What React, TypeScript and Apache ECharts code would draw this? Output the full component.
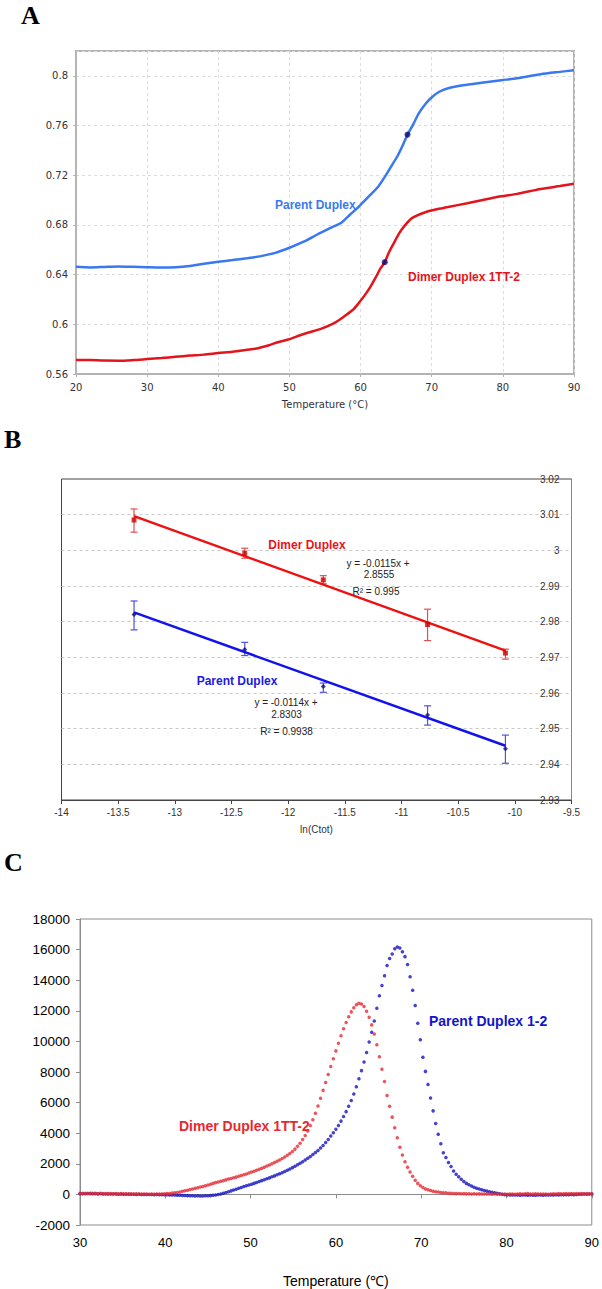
import React, { useEffect, useRef } from "react";
import * as echarts from "echarts";

// ---------- Panel A: absorbance melting curves ----------
const A_PARENT_T = [20, 22, 24, 26, 28, 30, 32, 34, 36, 38, 40, 42, 44, 46, 48, 50, 52, 54, 56, 57.3, 58.5, 59.8, 61.4, 62.5, 63.6, 64.5, 65.2, 66, 66.6, 67.4, 68.2, 69.2, 70.1, 71, 72.3, 74.4, 77, 79.8, 82, 85.3, 88, 90];
const A_PARENT_ABS = [0.6463, 0.6458, 0.6462, 0.6466, 0.6463, 0.646, 0.6458, 0.646, 0.647, 0.6487, 0.6503, 0.6517, 0.6532, 0.6549, 0.6575, 0.6616, 0.6665, 0.6725, 0.6782, 0.6818, 0.6882, 0.695, 0.7043, 0.711, 0.7204, 0.729, 0.7355, 0.745, 0.7527, 0.761, 0.77, 0.778, 0.7832, 0.787, 0.79, 0.7925, 0.7945, 0.7965, 0.798, 0.8013, 0.8032, 0.8045];
const A_DIMER_T = [20, 22, 24, 26, 28, 30, 32, 34, 36, 38, 40, 42, 44, 45.4, 47, 48.5, 50, 51.5, 52.7, 54.5, 56, 57, 58.1, 59, 59.8, 60.6, 61.4, 62.2, 62.8, 63.4, 64, 64.7, 65.5, 66.3, 67.1, 67.9, 69, 70.1, 71.5, 72.3, 75, 78, 79.8, 82, 85.3, 88, 90];
const A_DIMER_ABS = [0.5713, 0.5712, 0.5708, 0.5707, 0.5712, 0.572, 0.5728, 0.5738, 0.5748, 0.5756, 0.5769, 0.578, 0.5795, 0.5806, 0.583, 0.5858, 0.5881, 0.5912, 0.5934, 0.5965, 0.6001, 0.6035, 0.6081, 0.612, 0.6175, 0.6235, 0.6303, 0.6385, 0.645, 0.65, 0.658, 0.6656, 0.674, 0.68, 0.685, 0.6875, 0.69, 0.6918, 0.6935, 0.6944, 0.6975, 0.701, 0.703, 0.705, 0.7089, 0.7113, 0.7131];
const A_TM_T = [66.6, 63.4];
const A_TM_ABS = [0.7527, 0.65];

// ---------- Panel B: van't Hoff plot ----------
const B_LNC = [-13.36, -12.383, -11.69, -10.77, -10.083];
const B_DIMER = [3.0085, 2.9992, 2.9917, 2.9792, 2.9712];
const B_DIMER_LO = [3.0051, 2.9978, 2.9906, 2.9747, 2.9695];
const B_DIMER_HI = [3.0116, 3.0006, 2.9929, 2.9835, 2.9723];
const B_PARENT = [2.982, 2.9722, 2.9618, 2.9538, 2.9444];
const B_PARENT_LO = [2.9777, 2.9705, 2.9602, 2.951, 2.9403];
const B_PARENT_HI = [2.9858, 2.9742, 2.9628, 2.9564, 2.9482];
const B_FIT_X = [-13.36, -10.083];
const B_FIT_DIMER = [3.0096, 2.9719];
const B_FIT_PARENT = [2.9826, 2.9452];

// ---------- Panel C: derivative curves (sampled every 0.3 °C from 30 to 90) ----------
const C_T_START = 30;
const C_T_STEP = 0.3;
const C_PARENT = [
  40, 50, 45, 55, 50, 40, 45, 35, 40, 30,
  30, 25, 30, 20, 25, 15, 20, 10, 15, 10,
  5, 10, 0, 5, 0, -5, 0, -10, -5, -15,
  -10, -20, -15, -25, -20, -35, -40, -45, -50, -60,
  -65, -70, -80, -85, -90, -100, -95, -105, -100, -95,
  -90, -80, -60, -40, -10, 30, 80, 130, 180, 230,
  290, 340, 400, 450, 510, 560, 620, 670, 720, 780,
  840, 900, 960, 1020, 1080, 1150, 1210, 1280, 1350, 1420,
  1500, 1580, 1660, 1750, 1840, 1940, 2040, 2140, 2250, 2360,
  2480, 2610, 2740, 2870, 3030, 3200, 3390, 3590, 3820, 4030,
  4260, 4510, 4790, 5090, 5410, 5760, 6140, 6560, 7040, 7560,
  8090, 8660, 9270, 9960, 10600, 11330, 12160, 12980, 13660, 14290,
  14960, 15420, 15710, 16050, 16170, 16100, 15860, 15540, 15020, 14230,
  13350, 12340, 11190, 10110, 8970, 8040, 7190, 6300, 5460, 4640,
  3930, 3310, 2720, 2410, 2090, 1830, 1530, 1320, 1150, 990,
  840, 720, 630, 550, 470, 400, 350, 300, 255, 215,
  180, 140, 110, 70, 40, 10, -20, -30, -40, -35,
  -45, -40, -50, -45, -40, -50, -45, -55, -50, -40,
  -45, -50, -40, -45, -35, -40, -30, -35, -25, -30,
  -20, -25, -10, -15, 0, 10, 5, 20, 15, 25,
  20,
];
const C_DIMER = [
  70, 60, 75, 65, 80, 70, 75, 60, 70, 55,
  65, 50, 60, 45, 55, 40, 50, 40, 45, 35,
  40, 30, 35, 25, 30, 20, 25, 15, 20, 15,
  20, 20, 30, 35, 50, 65, 85, 105, 130, 160,
  200, 235, 275, 315, 355, 395, 430, 480, 520, 570,
  620, 670, 720, 770, 810, 860, 900, 950, 1000, 1040,
  1090, 1130, 1180, 1230, 1280, 1340, 1400, 1460, 1520, 1580,
  1650, 1710, 1780, 1850, 1920, 2000, 2080, 2160, 2250, 2350,
  2450, 2560, 2680, 2810, 2960, 3140, 3350, 3590, 3850, 4150,
  4500, 4880, 5300, 5780, 6280, 6800, 7320, 7840, 8360, 8870,
  9380, 9880, 10370, 10830, 11240, 11610, 11930, 12200, 12400, 12500,
  12450, 12280, 11970, 11580, 11080, 10480, 9780, 8990, 8180, 7380,
  6470, 5760, 5050, 4350, 3700, 3080, 2570, 2130, 1780, 1470,
  1180, 930, 720, 560, 450, 360, 300, 250, 210, 180,
  150, 130, 110, 100, 80, 70, 60, 50, 60, 40,
  50, 35, 45, 30, 40, 25, 35, 20, 30, 20,
  25, 15, 20, 10, 20, 15, 25, 10, 20, 30,
  15, 25, 35, 20, 40, 55, 30, 20, 35, 25,
  30, 20, 25, 15, 30, 40, 25, 50, 35, 45,
  60, 40, 55, 45, 50, 40, 55, 45, 50, 40,
  45,
];
const C_TEMPS = C_PARENT.map((_, i) => +(C_T_START + C_T_STEP * i).toFixed(1));

const SANS = "Liberation Sans";
const VERD = "DejaVu Sans";

function zip(xs: number[], ys: number[]) {
  return xs.map((x, i) => [x, ys[i]]);
}

function errorBarSeries(name: string, color: string, lo: number[], hi: number[]) {
  return {
    name,
    type: "custom",
    xAxisIndex: 1,
    yAxisIndex: 1,
    z: 3,
    data: B_LNC.map((x, i) => [x, lo[i], hi[i]]),
    encode: { x: 0, y: [1, 2] },
    renderItem: (params: any, api: any) => {
      const x = api.value(0);
      const pLo = api.coord([x, api.value(1)]);
      const pHi = api.coord([x, api.value(2)]);
      const w = 3.5;
      const style = { stroke: color, lineWidth: 1.2, fill: null };
      return {
        type: "group",
        children: [
          { type: "line", shape: { x1: pLo[0], y1: pLo[1], x2: pHi[0], y2: pHi[1] }, style },
          { type: "line", shape: { x1: pLo[0] - w, y1: pLo[1], x2: pLo[0] + w, y2: pLo[1] }, style },
          { type: "line", shape: { x1: pHi[0] - w, y1: pHi[1], x2: pHi[0] + w, y2: pHi[1] }, style },
        ],
      };
    },
  };
}

function txt(text: string, x: number, y: number, font: string, fill: string, align = "left") {
  return {
    type: "text",
    silent: true,
    z: 100,
    style: { text, x, y, font, fill, align, textAlign: align, verticalAlign: "middle", textVerticalAlign: "middle" },
  };
}

export default function App() {
  const ref = useRef<HTMLDivElement>(null);

  useEffect(() => {
    if (!ref.current) return;
    const chart = echarts.init(ref.current, undefined, { renderer: "svg" });

    const option: any = {
      animation: false,
      backgroundColor: "#ffffff",
      grid: [
        { left: 76, top: 51, width: 498, height: 323, show: true, borderColor: "#b4b4b4", borderWidth: 2, backgroundColor: "transparent" },
        { left: 61.5, top: 479, width: 510, height: 321, show: true, borderColor: "#444444", borderWidth: 1, backgroundColor: "transparent" },
        { left: 80, top: 919, width: 513, height: 336, show: true, borderColor: "#8c8c8c", borderWidth: 1, backgroundColor: "transparent" },
      ],
      xAxis: [
        {
          gridIndex: 0, type: "value", min: 20, max: 90, interval: 10,
          name: "Temperature (°C)", nameLocation: "middle", nameGap: 25,
          nameTextStyle: { fontFamily: VERD, fontSize: 10, color: "#333" },
          axisLine: { show: true, lineStyle: { color: "#b4b4b4", width: 2 } },
          axisTick: { show: true, length: 3, lineStyle: { color: "#b4b4b4" } },
          axisLabel: { fontFamily: VERD, fontSize: 10, color: "#333", margin: 8 },
          splitLine: { show: true, lineStyle: { color: "#dcdcdc", type: [3, 3], width: 1 } },
        },
        {
          gridIndex: 1, type: "value", min: -14, max: -9.5, interval: 0.5,
          name: "ln(Ctot)", nameLocation: "middle", nameGap: 24,
          nameTextStyle: { fontFamily: SANS, fontSize: 10, color: "#333" },
          axisLine: { show: true, onZero: false, lineStyle: { color: "#444", width: 1 } },
          axisTick: { show: true, length: 4, lineStyle: { color: "#444" } },
          axisLabel: { fontFamily: SANS, fontSize: 10, color: "#333", margin: 7 },
          splitLine: { show: false },
        },
        {
          gridIndex: 2, type: "value", min: 30, max: 90, interval: 10,
          name: "Temperature (℃)", nameLocation: "middle", nameGap: 49,
          nameTextStyle: { fontFamily: SANS, fontSize: 14, color: "#000" },
          axisLine: { show: true, onZero: true, lineStyle: { color: "#8c8c8c", width: 1 } },
          axisTick: { show: true, length: 4, lineStyle: { color: "#8c8c8c" } },
          axisLabel: { fontFamily: SANS, fontSize: 13, color: "#000", margin: 11, formatter: (v: number) => String(v) },
          splitLine: { show: false },
        },
      ],
      yAxis: [
        {
          gridIndex: 0, type: "value", min: 0.56, max: 0.82, interval: 0.04,
          axisLine: { show: true, lineStyle: { color: "#b4b4b4", width: 2 } },
          axisTick: { show: true, length: 3, lineStyle: { color: "#b4b4b4" } },
          axisLabel: { fontFamily: VERD, fontSize: 10, color: "#333", margin: 8, showMaxLabel: false },
          splitLine: { show: true, lineStyle: { color: "#dcdcdc", type: [3, 3], width: 1 } },
        },
        {
          gridIndex: 1, type: "value", position: "right", min: 2.93, max: 3.02, interval: 0.01,
          axisLine: { show: true, lineStyle: { color: "#888", width: 1 } },
          axisTick: { show: false },
          axisLabel: { inside: true, fontFamily: SANS, fontSize: 10, color: "#333", margin: 12 },
          splitLine: { show: true, showMinLine: false, showMaxLine: false, lineStyle: { color: "#c8c8c8", type: [3, 3], width: 1 } },
        },
        {
          gridIndex: 2, type: "value", min: -2000, max: 18000, interval: 2000,
          axisLine: { show: true, lineStyle: { color: "#8c8c8c", width: 1 } },
          axisTick: { show: true, length: 4, lineStyle: { color: "#8c8c8c" } },
          axisLabel: { fontFamily: SANS, fontSize: 13.5, color: "#000", margin: 10, formatter: (v: number) => String(v) },
          splitLine: { show: false },
        },
      ],
      series: [
        // Panel A
        {
          name: "Parent Duplex", type: "line", xAxisIndex: 0, yAxisIndex: 0,
          data: zip(A_PARENT_T, A_PARENT_ABS), showSymbol: false, smooth: 0.25,
          lineStyle: { color: "#3a78f2", width: 2.5 }, itemStyle: { color: "#3a78f2" },
        },
        {
          name: "Dimer Duplex 1TT-2", type: "line", xAxisIndex: 0, yAxisIndex: 0,
          data: zip(A_DIMER_T, A_DIMER_ABS), showSymbol: false, smooth: 0.25,
          lineStyle: { color: "#e4141c", width: 2.5 }, itemStyle: { color: "#e4141c" },
        },
        {
          name: "Tm", type: "scatter", xAxisIndex: 0, yAxisIndex: 0, z: 5,
          data: zip(A_TM_T, A_TM_ABS), symbol: "circle", symbolSize: 6,
          itemStyle: { color: "#0a0a78" },
        },
        // Panel B
        {
          name: "Dimer fit", type: "line", xAxisIndex: 1, yAxisIndex: 1,
          data: zip(B_FIT_X, B_FIT_DIMER), showSymbol: false,
          lineStyle: { color: "#ee1111", width: 2.5 },
        },
        {
          name: "Parent fit", type: "line", xAxisIndex: 1, yAxisIndex: 1,
          data: zip(B_FIT_X, B_FIT_PARENT), showSymbol: false,
          lineStyle: { color: "#1212ee", width: 2.5 },
        },
        errorBarSeries("Dimer err", "#e05050", B_DIMER_LO, B_DIMER_HI),
        errorBarSeries("Parent err", "#5050e0", B_PARENT_LO, B_PARENT_HI),
        {
          name: "Dimer Duplex", type: "scatter", xAxisIndex: 1, yAxisIndex: 1, z: 4,
          data: zip(B_LNC, B_DIMER), symbol: "rect", symbolSize: 5,
          itemStyle: { color: "#cc0000" },
        },
        {
          name: "Parent Duplex B", type: "scatter", xAxisIndex: 1, yAxisIndex: 1, z: 4,
          data: zip(B_LNC, B_PARENT), symbol: "diamond", symbolSize: 5,
          itemStyle: { color: "#12126e" },
        },
        // Panel C
        {
          name: "Parent Duplex 1-2", type: "scatter", xAxisIndex: 2, yAxisIndex: 2,
          data: zip(C_TEMPS, C_PARENT), symbol: "circle", symbolSize: 3.5,
          itemStyle: { color: "#1414c0" },
        },
        {
          name: "Dimer Duplex 1TT-2 C", type: "scatter", xAxisIndex: 2, yAxisIndex: 2,
          data: zip(C_TEMPS, C_DIMER), symbol: "circle", symbolSize: 3.5,
          itemStyle: { color: "#e62a32" },
        },
      ],
      graphic: [
        txt("A", 21, 15, `bold 26px "Liberation Serif"`, "#000"),
        txt("B", 4, 439, `bold 26px "Liberation Serif"`, "#000"),
        txt("C", 4, 862, `bold 26px "Liberation Serif"`, "#000"),
        // A labels
        txt("Parent Duplex", 275, 205, `bold 12px "${SANS}"`, "#3a78f2"),
        txt("Dimer Duplex 1TT-2", 408, 277, `bold 12px "${SANS}"`, "#e4141c"),
        // B labels
        txt("Dimer Duplex", 307, 545, `bold 12px "${SANS}"`, "#e8141c", "center"),
        txt("y = -0.0115x +", 378, 563, `10px "${SANS}"`, "#222", "center"),
        txt("2.8555", 379, 574.5, `10px "${SANS}"`, "#222", "center"),
        txt("R² = 0.995", 376, 591.5, `10px "${SANS}"`, "#222", "center"),
        txt("Parent Duplex", 237, 681, `bold 12px "${SANS}"`, "#1a1ae0", "center"),
        txt("y = -0.0114x +", 286, 702.5, `10px "${SANS}"`, "#222", "center"),
        txt("2.8303", 286.5, 714.5, `10px "${SANS}"`, "#222", "center"),
        txt("R² = 0.9938", 286.5, 731.5, `10px "${SANS}"`, "#222", "center"),
        // C labels
        txt("Parent Duplex 1-2", 429, 1020.5, `bold 14px "${SANS}"`, "#1414c8"),
        txt("Dimer Duplex 1TT-2", 179, 1126, `bold 14px "${SANS}"`, "#e8282e"),
      ],
    };

    chart.setOption(option);
    return () => chart.dispose();
  }, []);

  return (
    <div
      ref={ref}
      style={{ position: "absolute", left: 0, top: 0, width: 602, height: 1289, background: "#fff" }}
    />
  );
}
